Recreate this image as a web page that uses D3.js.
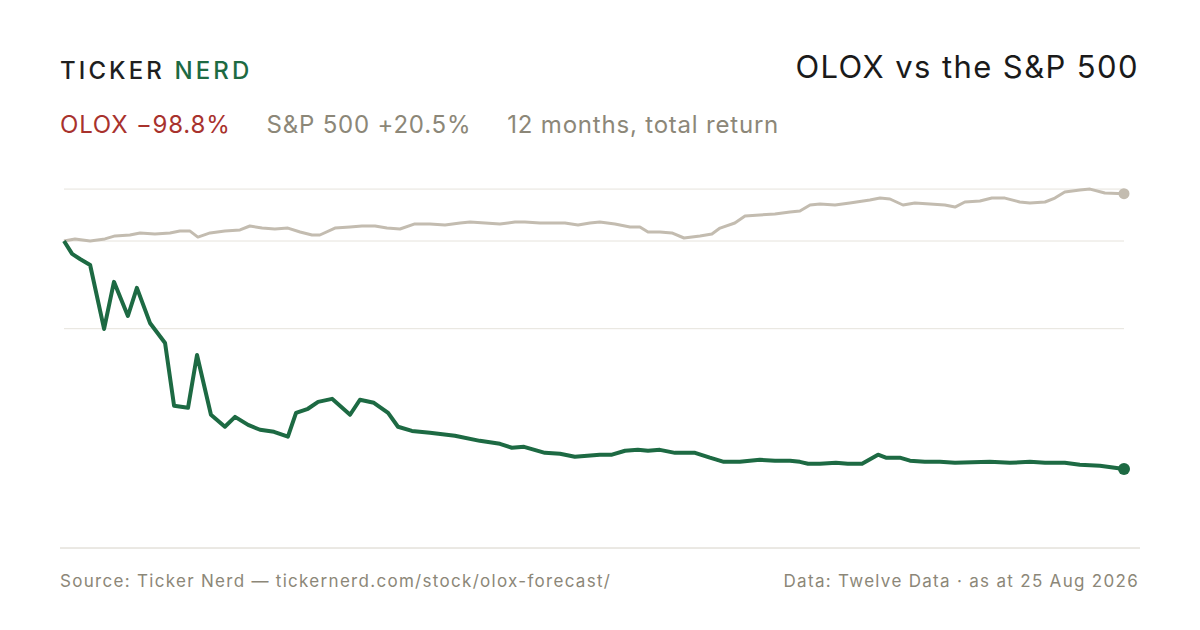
<!DOCTYPE html>
<html><head><meta charset="utf-8">
<script src="https://cdn.jsdelivr.net/npm/d3@7"></script>
<style>body{margin:0;background:#fff}svg{display:block;font-family:Inter,"Noto Sans",sans-serif}</style>
</head><body><svg id="c" width="1200" height="630"></svg>
<script>
const oloxDays=[0,2.8,5.5,9,13.8,17.2,22,25.1,29.6,34.8,37.9,42.7,45.8,50.6,55.4,58.9,63.4,67.5,72.3,77.1,79.9,84,87.5,92.3,98.5,101.9,106.7,111.6,115,119.8,126,134.6,143.2,150.1,154.2,158.4,165.6,170.8,175.9,184.5,188.7,193.2,197.6,201.1,205.2,210.4,217.3,222.4,227.2,232.7,239.6,244.8,250,253.4,256.2,260.3,265.8,269.9,274.8,280.3,283,287.8,291.3,296.4,301.6,306.8,318.8,325.7,332.6,337.8,344.6,349.8,356.7,365];
const oloxReturn=[0,-5.6,-7.8,-10.4,-38.1,-17.7,-32.5,-20.3,-35.5,-44.2,-71.4,-72.3,-49.4,-75.3,-80.5,-76.2,-79.7,-81.8,-82.7,-84.8,-74.5,-72.7,-69.7,-68.4,-75.3,-68.8,-70.1,-74.5,-80.5,-82.3,-83.1,-84.4,-86.6,-87.9,-89.6,-89.2,-91.8,-92.2,-93.5,-92.6,-92.6,-90.9,-90.5,-90.9,-90.5,-91.8,-91.8,-93.9,-95.7,-95.7,-94.8,-95.2,-95.2,-95.7,-96.5,-96.5,-96.1,-96.5,-96.5,-92.6,-93.9,-93.9,-95.2,-95.7,-95.7,-96.1,-95.7,-96.1,-95.7,-96.1,-96.1,-97,-97.4,-98.8];
const spxDays=[0,3.8,9,14.1,17.6,22.7,26.2,31.3,36.5,39.9,43.4,46.1,50.3,55.4,60.6,64,68.2,72.6,77.1,81.3,85.4,88.1,93.3,98.5,102.6,107.1,111.2,115.7,120.8,126,131.2,136.4,139.8,145,150.1,155.3,158.7,163.9,169.1,172.5,177,181.1,184.5,189.7,194.9,198.3,201.1,205.2,209.3,213.5,219,223.1,225.9,231,234.5,239.6,244.8,250,253.4,256.9,260.3,265.5,270.6,277.5,281,284.4,288.9,293,298.2,303.3,306.8,310.2,315.4,319.5,324,329.1,332.6,337.8,341.2,344.6,349.8,353.3,358.4,365];
const spxReturn=[0,0.9,0,0.9,2.2,2.6,3.5,3.0,3.5,4.3,4.3,1.7,3.5,4.3,4.8,6.5,5.6,5.2,5.6,3.9,2.6,2.6,5.6,6.1,6.5,6.5,5.6,5.2,7.4,7.4,6.9,7.8,8.2,7.8,7.4,8.2,8.2,7.8,7.8,7.8,6.9,7.8,8.2,7.4,6.1,6.1,3.9,3.9,3.5,1.3,2.2,3.0,5.6,7.8,10.8,11.3,11.7,12.6,13.0,15.6,16.0,15.6,16.5,17.8,18.6,18.2,15.6,16.5,16.0,15.6,14.7,16.9,17.3,18.6,18.6,16.9,16.5,16.9,18.6,21.2,22.1,22.5,20.8,20.5];
const gridValues=[22.5,0,-38];

const svg=d3.select("#c");
const x=d3.scaleLinear().domain([0,365]).range([64,1124]);
const y=d3.scaleLinear().domain([-98.8,0]).range([469,241]);

svg.selectAll(".g").data(gridValues).enter().append("line")
 .attr("x1",64).attr("x2",1124).attr("y1",d=>y(d)).attr("y2",d=>y(d))
 .attr("stroke","#e6e3dc").attr("stroke-width",1);
svg.append("line").attr("x1",60).attr("x2",1140).attr("y1",548).attr("y2",548).attr("stroke","#d6d2c8");

const line=d3.line().x(d=>x(d[0])).y(d=>y(d[1]));
const spx=spxDays.map((d,i)=>[d,spxReturn[i]]);
const olox=oloxDays.map((d,i)=>[d,oloxReturn[i]]);
svg.append("path").attr("d",line(spx)).attr("fill","none").attr("stroke","#c3bcb0").attr("stroke-width",3).attr("stroke-linejoin","round");
svg.append("path").attr("d",line(olox)).attr("fill","none").attr("stroke","#1d6a43").attr("stroke-width",4).attr("stroke-linejoin","round");
svg.append("circle").attr("cx",x(365)).attr("cy",y(spxReturn[spxReturn.length-1])).attr("r",5.5).attr("fill","#c3bcb0");
svg.append("circle").attr("cx",x(365)).attr("cy",y(oloxReturn[oloxReturn.length-1])).attr("r",6).attr("fill","#1d6a43");

const logo=svg.append("text").attr("x",60).attr("y",79).attr("font-size",24).attr("letter-spacing",3.1).attr("font-weight",500);
logo.append("tspan").attr("fill","#1f1f1f").text("TICKER ");
logo.append("tspan").attr("fill","#1d6a43").text("NERD");
svg.append("text").attr("x",1139).attr("y",78).attr("text-anchor","end").attr("font-size",31).attr("letter-spacing",1.4).attr("fill","#1a1a1a").text("OLOX vs the S&P 500");
const sub=svg.append("text").attr("x",60).attr("y",133).attr("font-size",24).attr("letter-spacing",0.8);
sub.append("tspan").attr("fill","#a8322d").text("OLOX −98.8%");
sub.append("tspan").attr("dx",36).attr("fill","#8c8778").text("S&P 500 +20.5%");
sub.append("tspan").attr("dx",36).attr("fill","#8c8778").text("12 months, total return");
svg.append("text").attr("x",60).attr("y",587).attr("font-size",17).attr("letter-spacing",1.3).attr("fill","#8c8778").text("Source: Ticker Nerd — tickernerd.com/stock/olox-forecast/");
svg.append("text").attr("x",1139).attr("y",587).attr("text-anchor","end").attr("font-size",17).attr("letter-spacing",1.3).attr("fill","#8c8778").text("Data: Twelve Data · as at 25 Aug 2026");
</script></body></html>
